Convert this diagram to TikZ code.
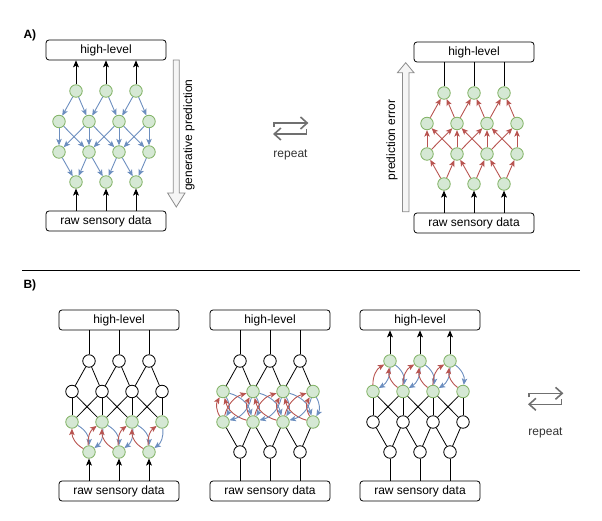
\documentclass[tikz,border=0pt]{standalone}
\usepackage{fontspec}
\setmainfont{Liberation Sans}
\usetikzlibrary{arrows.meta,calc}
\definecolor{gfill}{HTML}{D5E8D4}
\definecolor{gdraw}{HTML}{82B366}
\definecolor{bl}{HTML}{6C8EBF}
\definecolor{rd}{HTML}{B85450}
\definecolor{iconc}{HTML}{707070}
\tikzset{
 gnode/.style={circle,minimum size=12.5pt,inner sep=0pt,fill=gfill,draw=gdraw,line width=0.8pt},
 wnode/.style={circle,minimum size=12.5pt,inner sep=0pt,fill=white,draw=black,line width=0.8pt},
 hbox/.style={draw,rounded corners=3pt,minimum width=120pt,minimum height=20pt,inner sep=0pt,font=\fontsize{12}{14}\selectfont,line width=0.8pt},
 edge/.style={draw=black,line width=0.8pt},
 karr/.style={edge,-{Stealth[length=7pt,width=6pt,inset=1.8pt]}},
 barr/.style={draw=bl,line width=0.9pt,-{Stealth[length=6.5pt,width=5.5pt,inset=1.6pt]}},
 rarr/.style={draw=rd,line width=0.9pt,-{Stealth[length=6.5pt,width=5.5pt,inset=1.6pt]}},
 bigarr/.style={draw=black!45,fill=black!4,line width=0.8pt,line join=miter},
 lbl/.style={font=\fontsize{12}{14}\selectfont},
 replbl/.style={font=\fontsize{12}{14}\selectfont,text=black!80},
 rep/.style={draw=iconc,line width=1.6pt},
 seclbl/.style={anchor=west,font=\bfseries\fontsize{12}{14}\selectfont},
}
\newcommand\mknet[7]{%
 \node[hbox] (#1-hi) at (#2+47,#3-41) {high-level};
 \node[hbox] (#1-raw) at (#2+47,#3+130) {raw sensory data};
 \foreach \i in {0,1,2}{%
   \node[#4] (#1-1-\i) at (#2+17+30*\i,#3) {};
   \node[#7] (#1-4-\i) at (#2+17+30*\i,#3+91) {};}
 \foreach \i in {0,...,3}{%
   \node[#5] (#1-2-\i) at (#2+30*\i,#3+30.5) {};
   \node[#6] (#1-3-\i) at (#2+30*\i,#3+61) {};}
}
\newcommand\eachAB[2]{\foreach \i in {0,1,2}{\pgfmathtruncatemacro\jj{\i+1}#2{#1-1-\i}{#1-2-\i}#2{#1-1-\i}{#1-2-\jj}}}
\newcommand\eachBC[2]{\foreach \i in {0,...,3}{\foreach \k in {0,...,3}{\pgfmathtruncatemacro\dd{abs(\i-\k)}\ifnum\dd<2 #2{#1-2-\i}{#1-3-\k}\fi}}}
\newcommand\eachCD[2]{\foreach \i in {0,1,2}{\pgfmathtruncatemacro\jj{\i+1}#2{#1-3-\i}{#1-4-\i}#2{#1-3-\jj}{#1-4-\i}}}
\newcommand\plainE[2]{\draw[edge] (#1) -- (#2);}
\newcommand\downE[2]{\draw[barr] (#1) -- (#2);}
\newcommand\upE[2]{\draw[rarr] (#2) -- (#1);}
\newcommand\pairE[2]{\draw[rarr] (#2) to[bend left=30] (#1);\draw[barr] (#1) to[bend left=30] (#2);}
\newcommand\repicon[2]{%
 \draw[rep] (#1-16.3,#2-1.5) -- (#1-16.3,#2-5.5) -- (#1+16.2,#2-5.5);
 \draw[rep] (#1+10,#2-11.5) -- (#1+16.7,#2-5.5) -- (#1+10,#2+0.5);
 \draw[rep] (#1+16,#2+0.5) -- (#1+16,#2+5.5) -- (#1-15.8,#2+5.5);
 \draw[rep] (#1-9.6,#2-0.5) -- (#1-16.3,#2+5.5) -- (#1-9.6,#2+11.5);
}
\begin{document}
\begin{tikzpicture}[x=1pt,y=-1pt]
\useasboundingbox (0,0) rectangle (602,521);
\node[seclbl] (la) at (20,35) {A)};
\node[seclbl] (lb) at (20,285) {B)};
\draw[line width=0.8pt] (22,270) -- (580,270);
% ---- A left
\mknet{al}{59}{91}{gnode}{gnode}{gnode}{gnode}
\eachAB{al}{\downE}\eachBC{al}{\downE}\eachCD{al}{\downE}
\foreach \i in {0,1,2}{\draw[karr] (al-1-\i) -- (al-1-\i |- al-hi.south);
 \draw[karr] (al-4-\i |- al-raw.north) -- (al-4-\i);}
\draw[bigarr] (173.3,60) -- (179.3,60) -- (179.3,193) -- (185,193) -- (176.3,207) -- (167.6,193) -- (173.3,193) -- cycle;
\node[lbl,rotate=90] (gp) at (189,135) {generative prediction};
% ---- repeat A
\repicon{290.5}{128.5}
\node[replbl] (ra) at (290.5,155) {repeat};
% ---- A right
\mknet{ar}{427}{93}{gnode}{gnode}{gnode}{gnode}
\eachAB{ar}{\upE}\eachBC{ar}{\upE}\eachCD{ar}{\upE}
\foreach \i in {0,1,2}{\draw[edge] (ar-1-\i) -- (ar-1-\i |- ar-hi.south);
 \draw[karr] (ar-4-\i |- ar-raw.north) -- (ar-4-\i);}
\draw[bigarr] (402.4,211.7) -- (409,211.7) -- (409,72.7) -- (414,72.7) -- (405.7,62.7) -- (397.4,72.7) -- (402.4,72.7) -- cycle;
\node[lbl,rotate=90] (pe) at (392,140) {prediction error};
% ---- B1
\mknet{ba}{72}{361}{wnode}{wnode}{gnode}{gnode}
\eachAB{ba}{\plainE}\eachBC{ba}{\plainE}\eachCD{ba}{\pairE}
\foreach \i in {0,1,2}{\draw[edge] (ba-1-\i) -- (ba-1-\i |- ba-hi.south);
 \draw[karr] (ba-4-\i |- ba-raw.north) -- (ba-4-\i);}
% ---- B2
\mknet{bb}{223}{361}{wnode}{gnode}{gnode}{wnode}
\eachAB{bb}{\plainE}\eachBC{bb}{\pairE}\eachCD{bb}{\plainE}
\foreach \i in {0,1,2}{\draw[edge] (bb-1-\i) -- (bb-1-\i |- bb-hi.south);
 \draw[edge] (bb-4-\i |- bb-raw.north) -- (bb-4-\i);}
% ---- B3
\mknet{bc}{373}{361}{gnode}{gnode}{wnode}{wnode}
\eachAB{bc}{\pairE}\eachBC{bc}{\plainE}\eachCD{bc}{\plainE}
\foreach \i in {0,1,2}{\draw[karr] (bc-1-\i) -- (bc-1-\i |- bc-hi.south);
 \draw[edge] (bc-4-\i |- bc-raw.north) -- (bc-4-\i);}
% ---- repeat B
\repicon{545.5}{398.8}
\node[replbl] (rb) at (545.5,433) {repeat};
\end{tikzpicture}
\end{document}
